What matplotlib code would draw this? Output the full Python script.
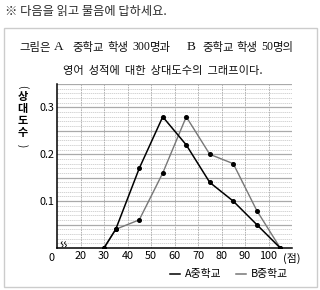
import numpy as np
import matplotlib
matplotlib.use("Agg")
import matplotlib.pyplot as plt
from matplotlib.lines import Line2D
from matplotlib.patches import Rectangle

# data
scores = [30, 35, 45, 55, 65, 75, 85, 95, 105]
school_a = [0, 0.04, 0.17, 0.28, 0.22, 0.14, 0.10, 0.05, 0]
school_b = [0, 0.04, 0.06, 0.16, 0.28, 0.20, 0.18, 0.08, 0]
x_ticks = [20, 30, 40, 50, 60, 70, 80, 90, 100]
x_tick_labels = ["20", "30", "40", "50", "60", "70", "80", "90", "100"]
y_ticks = [0.1, 0.2, 0.3]
y_tick_labels = ["0.1", "0.2", "0.3"]

KR = ["Noto Sans CJK KR", "DejaVu Sans"]
SERIF = ["Liberation Serif"]

W, H = 320, 290
fig = plt.figure(figsize=(3.2, 2.9), dpi=100)

# header and question box
fig.text(5 / W, 1 - 11 / H, "※ 다음을 읽고 물음에 답하세요.", family=KR, fontsize=8.8,
         va="center", ha="left", color="#2a2a2a")
fig.add_artist(Rectangle((4 / W, 3 / H), 313 / W, 259 / H, transform=fig.transFigure,
                         fill=False, edgecolor="#cccccc", linewidth=1))

# first line of the question, piece by piece (Latin parts in a serif face)
line1 = [(19, "그림은", KR, 8.2), (54, "A", SERIF, 9.5), (72, "중학교", KR, 8.2),
         (107, "학생", KR, 8.2), (132, "300", SERIF, 8.6), (150, "명과", KR, 8.2),
         (187, "B", SERIF, 9.5), (202, "중학교", KR, 8.2), (236, "학생", KR, 8.2),
         (261, "50", SERIF, 8.6), (273, "명의", KR, 8.2)]
for px, s, fam, size in line1:
    fig.text(px / W, 1 - 47 / H, s, family=fam, fontsize=size,
             ha="left", va="center", color="#111111")
fig.text(163 / W, 1 - 71 / H, "영어  성적에  대한  상대도수의  그래프이다.",
         family=KR, fontsize=8.1, ha="center", va="center", color="#111111")

ax = fig.add_axes([57 / W, 1 - 248 / H, 235 / W, 164 / H])
ax.set_xlim(10, 110)
ax.set_ylim(0, 0.35)

# grid
for v in np.arange(0.01, 0.351, 0.01):
    if abs(round(v / 0.05) * 0.05 - v) < 1e-6:
        ax.axhline(v, color="#aaaaaa", linewidth=0.9, zorder=1)
    else:
        ax.axhline(v, color="#c4c4c4", linewidth=0.5, linestyle=(0, (2, 1)), zorder=1)
for v in list(x_ticks) + [110]:
    ax.axvline(v, color="#aaaaaa", linewidth=0.6, linestyle=(0, (2, 1)), zorder=1)

ax.plot(scores, school_b, color="#777777", linewidth=1, marker="o", markersize=2.6,
        markerfacecolor="black", markeredgecolor="black", zorder=3)
ax.plot(scores, school_a, color="black", linewidth=1.1, marker="o", markersize=2.6,
        markerfacecolor="black", markeredgecolor="black", zorder=4)

for s in ["top", "right"]:
    ax.spines[s].set_visible(False)
for s in ["left", "bottom"]:
    ax.spines[s].set_linewidth(1.1)
    ax.spines[s].set_zorder(5)

ax.set_xticks(x_ticks)
ax.set_xticklabels(x_tick_labels, family=KR, fontsize=7.8)
ax.set_yticks(y_ticks)
ax.set_yticklabels(y_tick_labels, family=KR, fontsize=7.8)
ax.tick_params(length=0, pad=2)

# origin label, unit and axis break
ax.text(-0.022, -0.03, "0", transform=ax.transAxes, family=KR, fontsize=7.8,
        ha="center", va="top")
ax.text(1.0, -0.03, "(점)", transform=ax.transAxes, family=KR, fontsize=7.8,
        ha="center", va="top")
t = np.linspace(0, 1, 20)
for dx in (0.022, 0.036):
    ax.plot(dx + 0.004 * np.sin(t * 2 * np.pi), 0.008 + 0.03 * t,
            transform=ax.transAxes, color="black", linewidth=0.6, clip_on=False)

# vertical y-axis label
fig.text(0.07, 0.703, "(", family=KR, fontsize=7, rotation=-90, ha="center", va="center")
for i, ch in enumerate("상대도수"):
    fig.text(0.07, 0.668 - i * 0.042, ch, family=KR, fontsize=8, fontweight="bold",
             ha="center", va="center")
fig.text(0.07, 0.498, ")", family=KR, fontsize=7, rotation=-90, ha="center", va="center")

# legend
fig.add_artist(Line2D([0.53, 0.562], [0.055, 0.055], color="black", linewidth=1.1))
fig.text(0.578, 0.055, "A중학교", family=KR, fontsize=7.8, va="center", ha="left")
fig.add_artist(Line2D([0.737, 0.769], [0.055, 0.055], color="#777777", linewidth=1.1))
fig.text(0.783, 0.055, "B중학교", family=KR, fontsize=7.8, va="center", ha="left")

fig.savefig("out.png", dpi=100)
